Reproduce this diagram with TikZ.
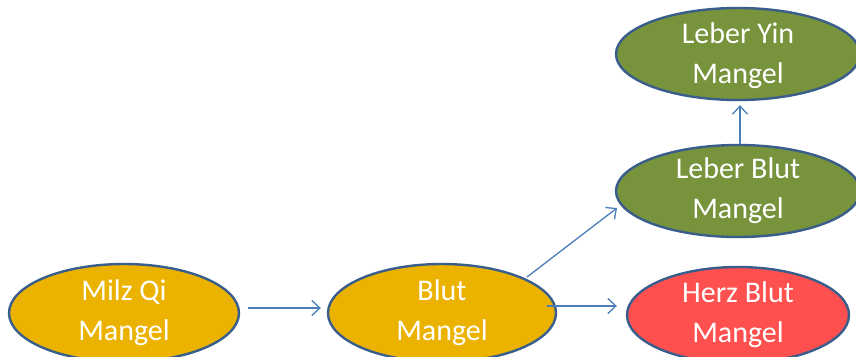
\documentclass[tikz,border=0pt]{standalone}
\usepackage{fontspec}
\setmainfont{Carlito}
\usetikzlibrary{shapes.geometric,arrows.meta,calc}
\definecolor{gold}{HTML}{EBB300}
\definecolor{olive}{HTML}{77933C}
\definecolor{redfill}{HTML}{FF5050}
\definecolor{rim}{HTML}{3A5E8C}
\definecolor{arrowblue}{HTML}{4A7EBB}
\tikzset{
  ell/.style={ellipse, draw=rim, line width=2.4pt, inner sep=0pt},
  lbl/.style={text=white, align=center, font=\fontsize{30}{40}\selectfont},
  arr/.style={draw=arrowblue, line width=1.3pt, -{Straight Barb[length=8pt,width=15pt,line width=1.3pt]}}
}
\begin{document}
\begin{tikzpicture}[x=1pt,y=-1pt]
\useasboundingbox (0,0) rectangle (856,356);
\node[ell, fill=gold, minimum width=230pt, minimum height=98pt] (milz) at (124,313) {};
\node[lbl] (milzt) at (124,313) {Milz Qi\\Mangel};
\node[ell, fill=gold, minimum width=228pt, minimum height=98pt] (blut) at (442,313) {};
\node[lbl] (blutt) at (442,313) {Blut\\Mangel};
\node[ell, fill=redfill, minimum width=222pt, minimum height=96pt] (herz) at (738,315) {};
\node[lbl] (herzt) at (738,315) {Herz Blut\\Mangel};
\node[ell, fill=olive, minimum width=244pt, minimum height=92pt] (leberblut) at (738,191) {};
\node[lbl] (leberblutt) at (738,191) {Leber Blut\\Mangel};
\node[ell, fill=olive, minimum width=244pt, minimum height=92pt] (leberyin) at (738,54) {};
\node[lbl] (leberyint) at (738,56) {Leber Yin\\Mangel};
\draw[arr] ($(milz.east)+(8,-5)$) -- ($(blut.west)+(-6,-5)$);
\draw[arr] ($(blut)+(105,-7)$) -- ($(herz.west)+(-9,-9)$);
\draw[arr] ($(blut)+(85,-36)$) -- ($(leberblut)+(-121,17)$);
\draw[arr] ($(leberblut.north)+(2,0)$) -- ($(leberyin.south)+(2,4)$);
\end{tikzpicture}
\end{document}
